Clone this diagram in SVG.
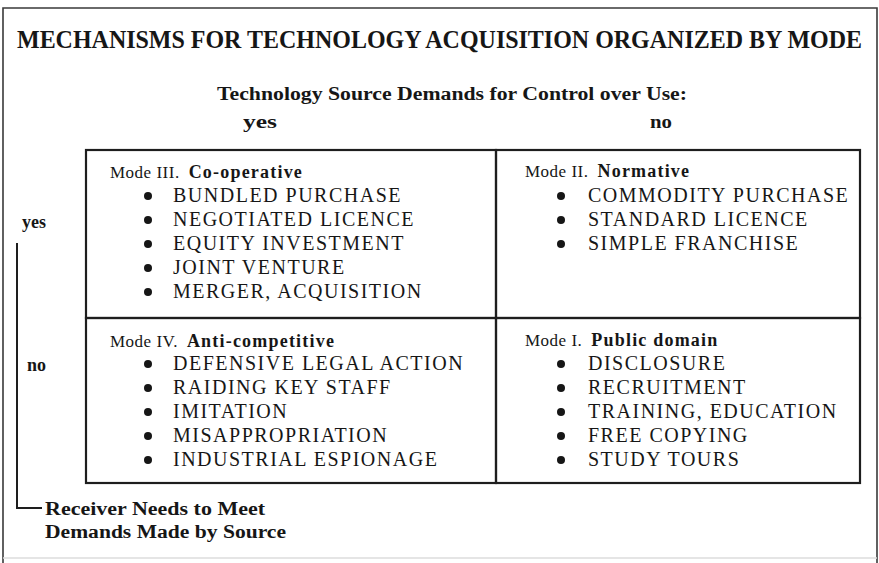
<svg xmlns="http://www.w3.org/2000/svg" width="879" height="563" viewBox="0 0 879 563">
  <style>
    .frame { fill: none; stroke: #3a3a3a; stroke-width: 1.6; }
    .frame-foot { fill: none; stroke: #dcdcdc; stroke-width: 1.5; }
    .cell { fill: none; stroke: #1e1e1e; stroke-width: 2.2; }
    .wire { fill: none; stroke: #1e1e1e; stroke-width: 2; }
    text { font-family: "Liberation Serif", "Times New Roman", serif; fill: #161616; }
    .title { font-size: 23px; font-weight: bold; }
    .axis { font-size: 18px; font-weight: bold; }
    .head { font-size: 17px; letter-spacing: 0.5px; }
    .head .b { font-size: 18px; font-weight: bold; letter-spacing: 1.2px; }
    .item { font-size: 20px; letter-spacing: 1.5px; }
    .dot { fill: #161616; }
  </style>

  <rect width="879" height="563" fill="#ffffff"/>

  <!-- page frame; the foot line is faint -->
  <path class="frame" d="M3,563 V8 H877 V563"/>
  <path class="frame-foot" d="M3,558 H877"/>

  <!-- heading: narrow, tall bold face -->
  <text class="title" transform="translate(17,48) scale(1,1.12)" x="0" y="0" textLength="845" lengthAdjust="spacingAndGlyphs">MECHANISMS FOR TECHNOLOGY ACQUISITION ORGANIZED BY MODE</text>

  <!-- column axis -->
  <g id="axis-source">
    <text class="axis" x="217" y="100" textLength="470" lengthAdjust="spacingAndGlyphs">Technology Source Demands for Control over Use:</text>
    <text class="axis" x="260" y="128" text-anchor="middle" textLength="34" lengthAdjust="spacingAndGlyphs">yes</text>
    <text class="axis" x="661" y="128" text-anchor="middle" textLength="22" lengthAdjust="spacingAndGlyphs">no</text>
  </g>

  <!-- row axis -->
  <g id="axis-receiver">
    <text class="axis" x="22" y="228">yes</text>
    <text class="axis" x="27" y="371">no</text>
    <text class="axis" x="45" y="515" textLength="220" lengthAdjust="spacingAndGlyphs">Receiver Needs to Meet</text>
    <text class="axis" x="45" y="538" textLength="241" lengthAdjust="spacingAndGlyphs">Demands Made by Source</text>
  </g>

  <g id="connectors">
    <path class="wire" d="M17,243 V508 H42"/>
  </g>

  <g id="mode-iii">
    <rect class="cell" x="86" y="150" width="410" height="168"/>
    <text class="head" x="110" y="178">Mode III.<tspan class="b" dx="9">Co-operative</tspan></text>
    <circle class="dot" cx="148" cy="196" r="4"/>
    <circle class="dot" cx="148" cy="220" r="4"/>
    <circle class="dot" cx="148" cy="244" r="4"/>
    <circle class="dot" cx="148" cy="268" r="4"/>
    <circle class="dot" cx="148" cy="292" r="4"/>
    <text class="item" x="173" y="202">BUNDLED PURCHASE</text>
    <text class="item" x="173" y="226">NEGOTIATED LICENCE</text>
    <text class="item" x="173" y="250">EQUITY INVESTMENT</text>
    <text class="item" x="173" y="274">JOINT VENTURE</text>
    <text class="item" x="173" y="298">MERGER, ACQUISITION</text>
  </g>

  <g id="mode-ii">
    <rect class="cell" x="496" y="150" width="364" height="168"/>
    <text class="head" x="525" y="177">Mode II.<tspan class="b" dx="9">Normative</tspan></text>
    <circle class="dot" cx="561" cy="196" r="4"/>
    <circle class="dot" cx="561" cy="220" r="4"/>
    <circle class="dot" cx="561" cy="244" r="4"/>
    <text class="item" x="588" y="202">COMMODITY PURCHASE</text>
    <text class="item" x="588" y="226">STANDARD LICENCE</text>
    <text class="item" x="588" y="250">SIMPLE FRANCHISE</text>
  </g>

  <g id="mode-iv">
    <rect class="cell" x="86" y="318" width="410" height="165"/>
    <text class="head" x="110" y="347">Mode IV.<tspan class="b" dx="9">Anti-competitive</tspan></text>
    <circle class="dot" cx="148" cy="364" r="4"/>
    <circle class="dot" cx="148" cy="388" r="4"/>
    <circle class="dot" cx="148" cy="412" r="4"/>
    <circle class="dot" cx="148" cy="436" r="4"/>
    <circle class="dot" cx="148" cy="460" r="4"/>
    <text class="item" x="173" y="370">DEFENSIVE LEGAL ACTION</text>
    <text class="item" x="173" y="394">RAIDING KEY STAFF</text>
    <text class="item" x="173" y="418">IMITATION</text>
    <text class="item" x="173" y="442">MISAPPROPRIATION</text>
    <text class="item" x="173" y="466">INDUSTRIAL ESPIONAGE</text>
  </g>

  <g id="mode-i">
    <rect class="cell" x="496" y="318" width="364" height="165"/>
    <text class="head" x="525" y="346">Mode I.<tspan class="b" dx="9">Public domain</tspan></text>
    <circle class="dot" cx="561" cy="364" r="4"/>
    <circle class="dot" cx="561" cy="388" r="4"/>
    <circle class="dot" cx="561" cy="412" r="4"/>
    <circle class="dot" cx="561" cy="436" r="4"/>
    <circle class="dot" cx="561" cy="460" r="4"/>
    <text class="item" x="588" y="370">DISCLOSURE</text>
    <text class="item" x="588" y="394">RECRUITMENT</text>
    <text class="item" x="588" y="418">TRAINING, EDUCATION</text>
    <text class="item" x="588" y="442">FREE COPYING</text>
    <text class="item" x="588" y="466">STUDY TOURS</text>
  </g>
</svg>
